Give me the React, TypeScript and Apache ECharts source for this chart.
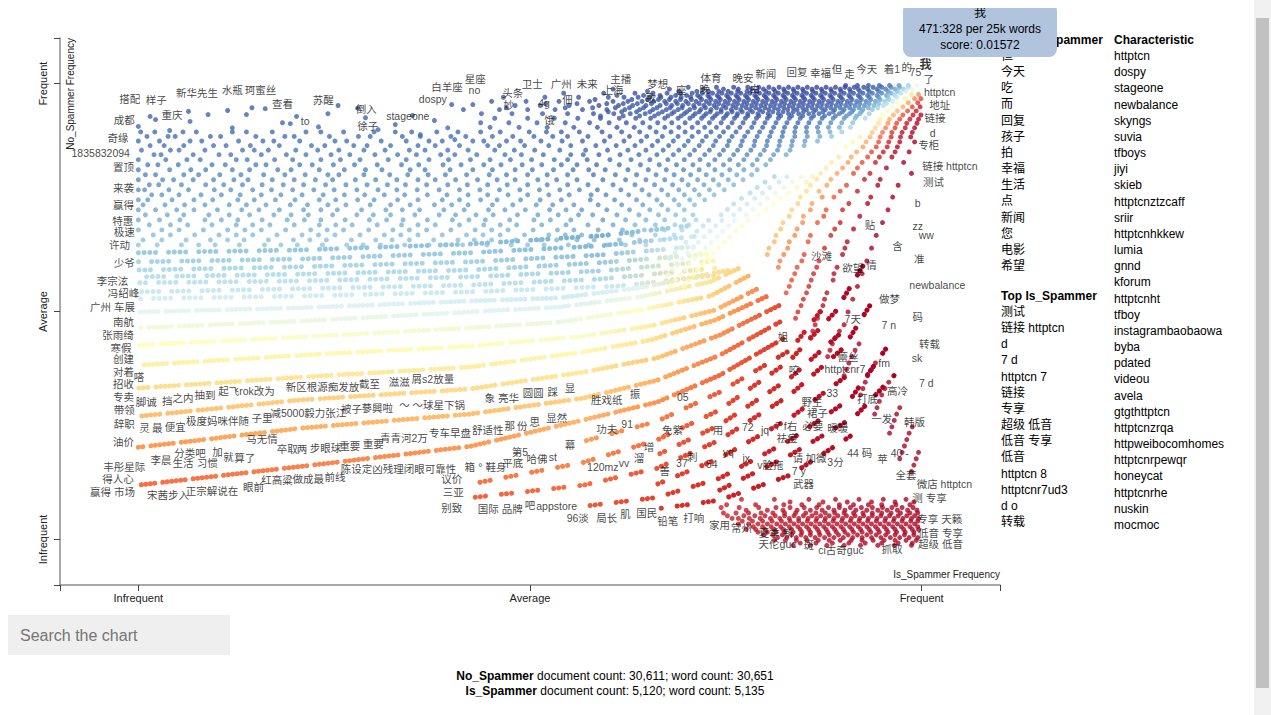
import { useEffect, useRef } from "react";
import * as echarts from "echarts";

// axis ticks (rank scale 0..1000 on both axes)
const tickValues = [0, 500, 1000];
const tickNames = ["Infrequent", "Average", "Frequent"];

const topNoSpammer = ["但", "今天", "吃", "而", "回复", "孩子", "拍", "幸福", "生活", "点", "新闻", "您", "电影", "希望"];
const topIsSpammer = ["测试", "链接 httptcn", "d", "7 d", "httptcn 7", "链接", "专享", "超级 低音", "低音 专享", "低音", "httptcn 8", "httptcnr7ud3", "d o", "转载"];
const characteristic = ["httptcn", "dospy", "stageone", "newbalance", "skyngs", "suvia", "tfboys", "jiyi", "skieb", "httptcnztzcaff", "sriir", "httptcnhkkew", "lumia", "gnnd", "kforum", "httptcnht", "tfboy", "instagrambaobaowa", "byba", "pdated", "videou", "avela", "gtgthttptcn", "httptcnzrqa", "httpweibocomhomes", "httptcnrpewqr", "honeycat", "httptcnrhe", "nuskin", "mocmoc"];
const corpusStats = [
  ["No_Spammer", "30,611", "30,651"],
  ["Is_Spammer", "5,120", "5,135"],
];
const hoverTerm = ["我", "471:328 per 25k words", "score: 0.01572"];

// sparse terms in the upper left: [x, y]
const sparseTop: number[][] = [
  [0, 906], [15, 928], [22, 921], [64, 939], [66, 917], [89, 932], [114, 941], [138, 932], [145, 947], [162, 945],
  [184, 914], [194, 912], [202, 928], [242, 934], [255, 952], [400, 954], [415, 943], [427, 954], [306, 899], [328, 910],
  [360, 888], [395, 903], [404, 877], [290, 925], [230, 905], [120, 903], [40, 897], [280, 946], [350, 930], [378, 919],
];

// term points, grouped in rows: [y, [x, x, ...]]
const blueRows: [number, number[]][] = [
  [996, [903, 918, 932, 946, 959, 971, 983, 994]],
  [992, [702, 738, 760, 778, 792, 805, 818, 830, 842, 854, 866, 878, 890, 902, 914, 926, 938, 949, 961, 972, 983]],
  [988, [606, 678, 721, 747, 766, 783, 798, 811, 824, 836, 848, 860, 872, 884, 896, 908, 919, 931, 943, 954, 966, 977, 988]],
  [983, [650, 690, 713, 728, 741, 753, 765, 777, 789, 801, 813, 825, 837, 849, 861, 873, 885, 897, 909, 921, 933, 945, 957, 969, 980]],
  [979, [543, 594, 634, 657, 675, 692, 707, 720, 733, 745, 757, 769, 781, 793, 805, 817, 829, 841, 853, 865, 877, 889, 901, 913, 925, 937, 949, 961, 973]],
  [974, [611, 645, 666, 686, 700, 714, 727, 739, 751, 763, 775, 787, 799, 811, 823, 835, 847, 859, 871, 883, 895, 907, 919, 931, 943, 955, 966]],
  [970, [466, 519, 562, 600, 620, 638, 653, 667, 680, 693, 705, 717, 729, 741, 753, 765, 777, 789, 801, 813, 825, 837, 849, 861, 873, 885, 897, 909, 921, 933, 945, 957, 968]],
  [965, [583, 630, 650, 664, 678, 692, 706, 719, 731, 743, 755, 767, 779, 791, 803, 815, 827, 839, 851, 863, 875, 887, 899, 911, 923, 935, 947, 958]],
  [961, [451, 495, 537, 576, 606, 625, 643, 658, 672, 686, 699, 712, 725, 737, 749, 761, 773, 785, 797, 809, 821, 833, 845, 857, 869, 881, 893, 905, 917, 929, 941, 953, 963]],
  [956, [520, 560, 598, 619, 637, 655, 674, 688, 702, 716, 729, 741, 753, 765, 777, 789, 801, 813, 825, 837, 849, 861, 873, 885, 897, 909, 921, 933, 945, 955]],
  [952, [481, 513, 550, 588, 613, 631, 648, 666, 681, 695, 709, 722, 735, 747, 759, 771, 783, 795, 807, 819, 831, 843, 855, 867, 879, 891, 903, 915, 927, 939, 951]],
  [947, [470, 545, 580, 609, 627, 645, 662, 679, 694, 710, 724, 738, 750, 763, 776, 788, 800, 812, 824, 836, 848, 860, 872, 884, 896, 908, 920, 932, 944]],
  [943, [461, 497, 532, 567, 598, 621, 640, 657, 674, 689, 704, 718, 731, 744, 757, 769, 781, 793, 805, 817, 829, 841, 853, 865, 877, 889, 901, 913, 925, 937]],
  [938, [600, 617, 636, 653, 669, 684, 700, 716, 730, 744, 758, 771, 784, 797, 810, 823, 836, 849, 862, 874, 887, 899, 911, 923]],
  [934, [438, 477, 516, 548, 581, 607, 628, 647, 664, 681, 697, 711, 725, 739, 752, 765, 778, 791, 804, 817, 830, 843, 856, 869, 882, 895, 908, 921, 933]],
  [929, [590, 619, 640, 659, 676, 693, 708, 722, 736, 750, 764, 778, 792, 806, 820, 834, 848, 862, 876, 890, 904, 917]],
  [924, [455, 497, 531, 561, 590, 614, 635, 654, 672, 689, 704, 719, 733, 747, 761, 775, 789, 803, 817, 831, 845, 859, 873, 887, 901, 915, 928]],
  [914, [437, 473, 509, 545, 576, 601, 623, 644, 663, 681, 698, 714, 729, 744, 758, 772, 786, 800, 814, 828, 842, 856, 870, 884, 898, 912]],
  [904, [449, 486, 522, 556, 586, 611, 633, 653, 672, 690, 707, 723, 738, 753, 768, 783, 797, 811, 825, 839, 853, 867, 881, 895, 909]],
  [894, [3, 21, 57, 74, 120, 138, 171, 214, 233, 262, 301, 328, 349, 381, 408, 437, 462, 499, 521, 540, 563, 592, 617, 640, 661, 680, 698, 715, 731, 747, 763, 778, 793, 808, 823, 838, 853, 868, 883, 898]],
  [884, [11, 38, 47, 92, 105, 150, 187, 199, 244, 281, 296, 337, 360, 399, 418, 452, 478, 505, 529, 548, 574, 602, 627, 649, 669, 689, 707, 725, 742, 758, 774, 790, 806, 822, 838, 854, 870, 885]],
  [874, [0, 27, 66, 81, 128, 159, 173, 206, 251, 266, 310, 342, 371, 388, 427, 441, 470, 488, 514, 541, 567, 595, 620, 642, 663, 683, 702, 720, 737, 754, 771, 787, 803, 819, 835, 851, 867]],
  [864, [15, 33, 58, 96, 112, 143, 180, 221, 238, 275, 292, 322, 357, 379, 410, 446, 461, 493, 524, 552, 584, 610, 634, 656, 677, 697, 716, 734, 752, 769, 786, 802, 818, 834, 850]],
  [854, [4, 41, 52, 85, 133, 148, 166, 201, 229, 256, 288, 315, 346, 366, 395, 421, 455, 480, 506, 538, 571, 599, 625, 648, 670, 690, 710, 729, 747, 765, 782, 799, 816, 832]],
  [844, [20, 29, 70, 103, 118, 157, 189, 214, 246, 270, 302, 331, 355, 386, 404, 432, 468, 489, 517, 552, 568, 588, 615, 639, 662, 683, 704, 723, 742, 760, 777, 794, 811, 827]],
  [833, [0, 35, 62, 79, 125, 139, 174, 197, 233, 258, 283, 319, 342, 371, 396, 424, 449, 475, 502, 531, 548, 573, 602, 629, 653, 676, 697, 717, 736, 755, 773, 790, 807]],
  [822, [12, 25, 51, 94, 111, 150, 163, 206, 222, 249, 276, 305, 336, 358, 389, 412, 441, 463, 490, 515, 540, 560, 585, 614, 641, 665, 687, 708, 728, 747, 766, 784, 801]],
  [811, [0, 40, 67, 86, 120, 142, 178, 195, 231, 263, 290, 311, 347, 366, 398, 427, 452, 481, 503, 530, 555, 575, 596, 625, 651, 674, 696, 716, 736, 755, 773, 790]],
  [800, [9, 22, 58, 77, 104, 131, 160, 187, 213, 242, 256, 288, 321, 344, 370, 392, 419, 448, 470, 497, 522, 548, 581, 609, 636, 661, 684, 705, 725, 745, 764, 783]],
  [789, [0, 31, 45, 70, 96, 122, 140, 171, 199, 226, 248, 277, 303, 330, 357, 379, 405, 433, 458, 481, 510, 534, 560, 593, 622, 648, 672, 694, 714, 734, 753, 772]],
  [778, [14, 26, 55, 86, 109, 133, 158, 185, 211, 239, 265, 292, 318, 341, 368, 395, 420, 446, 471, 497, 522, 548, 574, 606, 634, 659, 682, 702, 722, 741, 760]],
  [767, [0, 8, 39, 64, 97, 118, 146, 170, 197, 224, 250, 279, 306, 330, 356, 384, 410, 436, 461, 487, 512, 538, 563, 586, 616, 643, 668, 690, 710, 729, 748]],
  [756, [17, 30, 52, 80, 106, 130, 157, 182, 209, 236, 263, 289, 314, 340, 369, 394, 421, 446, 472, 497, 524, 550, 578, 597, 626, 652, 676, 697, 716, 735]],
  [745, [0, 12, 43, 71, 95, 127, 148, 175, 200, 231, 252, 280, 301, 331, 357, 388, 410, 437, 458, 488, 513, 540, 577, 608, 636, 662, 684, 704, 723]],
  [734, [6, 34, 59, 85, 116, 138, 163, 194, 216, 242, 265, 296, 322, 347, 378, 400, 421, 452, 478, 508, 529, 556, 587, 617, 644, 668, 690, 710]],
  [723, [0, 22, 49, 71, 101, 132, 154, 180, 211, 233, 254, 285, 316, 337, 359, 390, 416, 447, 468, 494, 525, 546, 566, 598, 627, 653, 676, 697]],
  [712, [9, 37, 58, 90, 116, 142, 173, 195, 217, 248, 279, 300, 322, 353, 384, 405, 431, 453, 484, 510, 536, 562, 580, 611, 639, 664, 686, 708]],
  [701, [0, 27, 53, 85, 106, 127, 158, 190, 212, 233, 264, 295, 317, 338, 369, 401, 422, 443, 474, 505, 526, 552, 593, 622, 648, 672, 697, 712]],
  [690, [14, 41, 63, 94, 125, 146, 168, 199, 231, 252, 273, 305, 336, 357, 379, 410, 441, 462, 483, 515, 546, 574, 606, 634, 660, 685, 703]],
  [679, [0, 30, 52, 83, 114, 136, 157, 188, 220, 241, 262, 294, 325, 346, 368, 399, 430, 451, 472, 504, 535, 556, 587, 618, 646, 672, 694]],
  [668, [19, 41, 72, 103, 125, 146, 177, 209, 230, 251, 283, 314, 335, 357, 388, 419, 440, 462, 493, 524, 545, 566, 600, 630, 660, 684]],
  [657, [6, 30, 61, 92, 114, 135, 166, 198, 219, 240, 272, 303, 324, 346, 377, 408, 429, 451, 482, 513, 534, 560, 582, 614, 640, 666]],
  [646, [0, 24, 55, 77, 98, 129, 161, 182, 203, 235, 266, 287, 309, 340, 371, 392, 414, 445, 476, 497, 518, 549, 575, 598, 622, 648]],
];

// terms along the diagonal, where both classes are about as frequent
const diagonalRows: [number, number[]][] = [
  [796, [812, 828, 846, 861]], [784, [800, 818, 835, 853]], [772, [790, 806, 824, 841]], [760, [781, 797, 813, 830]],
  [748, [770, 787, 803, 820]], [736, [760, 777, 794, 811]], [724, [752, 768, 785, 801]], [712, [744, 760, 776, 792]],
  [700, [728, 745, 761, 778]], [688, [721, 737, 754, 770]], [676, [713, 730, 746, 763]], [664, [706, 722, 739, 755]],
  [652, [699, 715, 731, 748]], [640, [692, 708, 724, 741]], [628, [685, 701, 717, 734]], [616, [678, 694, 710, 727]],
  [604, [688, 704, 720]], [592, [682, 698, 714]], [580, [676, 692, 708]], [568, [686, 702]], [556, [680, 696]],
];

const redRows: [number, number[]][] = [
  [976, [987, 996]], [967, [979, 991, 999]], [958, [970, 983, 995]], [949, [962, 976, 988, 998]],
  [940, [956, 969, 982, 993]], [931, [950, 964, 976, 989, 999]], [922, [947, 959, 972, 985, 996]],
  [913, [945, 957, 968, 981, 994]], [903, [941, 954, 966, 979, 991]], [893, [937, 950, 962, 975, 988]],
  [883, [921, 934, 947, 961, 973, 986]], [872, [912, 929, 945, 958, 972, 991]], [861, [903, 925, 942, 956, 969]],
  [850, [917, 936, 951, 966, 984]], [839, [894, 910, 931, 946, 962]], [827, [885, 906, 924, 941, 977]],
  [815, [878, 899, 918, 955]], [803, [871, 892, 913, 934, 987]], [790, [866, 884, 927, 947]],
  [777, [858, 879, 904, 944, 970]], [764, [853, 869, 896, 918]], [751, [845, 873, 888, 935, 963]],
  [737, [842, 860, 907, 931]], [723, [834, 858, 878, 899, 957]], [709, [831, 849, 875, 921]],
  [695, [823, 848, 867, 896, 950]], [681, [820, 841, 889, 913]], [667, [814, 838, 858, 884, 942]],
  [653, [812, 831, 855, 905]], [639, [805, 829, 876, 902, 936]], [625, [803, 824, 850, 899]],
  [611, [819, 847, 869, 930]], [597, [817, 841, 866, 892]], [583, [838, 862, 888, 924]],
  [569, [834, 859, 887]], [555, [831, 856, 918]], [541, [827, 853, 879]], [527, [849, 876, 912]],
  [513, [846, 874]], [499, [842, 870, 906]], [485, [839, 867]], [471, [864, 901]], [457, [861, 895]],
  [443, [858, 890]], [429, [886, 920]], [415, [883, 915]], [401, [880, 911]], [387, [907, 941]],
  [373, [904, 936]], [359, [901, 931]], [345, [928, 958]], [331, [925, 953]], [317, [922, 949]],
  [303, [946]], [289, [943, 972]], [275, [940, 968]], [261, [965]], [247, [962, 988]], [233, [959, 984]],
  [219, [981]], [205, [978]], [191, [975, 996]], [177, [972, 993]], [163, [990]], [149, [987]],
];

const floorRows: [number, number[]][] = [
  [88, [770, 812, 856, 890, 920, 951, 980]],
  [82, [832, 874, 905, 936, 966, 990]],
  [76, [751, 788, 824, 847, 869, 895, 913, 932, 949, 967, 985]],
  [70, [744, 767, 792, 814, 832, 850, 866, 881, 895, 909, 923, 937, 950, 962, 975, 989]],
  [64, [776, 803, 823, 841, 858, 873, 888, 902, 916, 930, 944, 956, 969, 982, 994]],
  [58, [747, 763, 779, 795, 810, 825, 839, 852, 865, 877, 889, 901, 913, 925, 937, 949, 961, 973, 985, 995]],
  [52, [752, 773, 787, 800, 813, 825, 837, 849, 860, 871, 882, 893, 904, 915, 926, 937, 948, 959, 970, 981, 991]],
  [46, [758, 766, 780, 794, 807, 819, 831, 843, 855, 866, 877, 888, 899, 910, 921, 932, 943, 954, 965, 976, 987, 996]],
  [40, [771, 784, 797, 809, 821, 832, 843, 854, 865, 876, 887, 898, 909, 920, 931, 942, 953, 964, 975, 986, 995]],
  [34, [766, 779, 791, 803, 815, 826, 837, 848, 859, 870, 881, 892, 903, 914, 925, 936, 947, 958, 969, 980, 991]],
  [28, [785, 797, 808, 820, 831, 842, 853, 864, 875, 886, 897, 908, 919, 930, 941, 952, 963, 974, 985, 995]],
  [22, [776, 788, 800, 812, 823, 834, 845, 856, 867, 878, 889, 900, 911, 922, 933, 944, 955, 966, 977, 988, 996]],
  [16, [791, 803, 814, 825, 836, 847, 858, 869, 880, 891, 902, 913, 924, 935, 946, 957, 968, 979, 990]],
  [10, [798, 810, 822, 834, 846, 858, 870, 882, 894, 906, 918, 930, 942, 954, 966, 978, 990]],
  [4, [816, 828, 840, 852, 864, 876, 888, 900, 912, 924, 936, 948, 960, 972, 984, 995]],
  [-2, [812, 826, 840, 854, 868, 882, 896, 910, 924, 938, 952, 966, 980, 993]],
  [-8, [845, 865, 886, 907, 928, 949, 970, 988]],
  [-13, [836, 858, 879, 901, 922, 944, 965, 987]],
];

// tied-frequency bands: vertices [x, y]
const bands: number[][][] = [
  [[0, 629], [207, 635], [423, 648], [589, 666], [704, 688]],
  [[0, 609], [207, 615], [423, 629], [589, 644], [717, 666]],
  [[0, 591], [207, 598], [423, 609], [589, 624], [723, 644]],
  [[0, 576], [207, 582], [423, 591], [589, 607], [730, 626]],
  [[0, 563], [207, 567], [423, 576], [589, 589], [736, 611]],
  [[0, 543], [207, 550], [423, 558], [589, 571], [742, 596]],
  [[0, 528], [207, 534], [423, 543], [615, 556], [749, 582]],
  [[0, 499], [207, 508], [423, 523], [538, 530], [640, 552], [755, 591]],
  [[0, 464], [207, 479], [423, 499], [538, 510], [640, 532], [730, 565], [768, 596]],
  [[0, 426], [207, 444], [423, 464], [538, 477], [640, 503], [730, 534], [781, 580]],
  [[0, 382], [207, 404], [423, 424], [568, 446], [653, 468], [736, 503], [793, 552]],
  [[0, 332], [207, 356], [423, 378], [568, 411], [653, 437], [736, 481], [806, 536]],
  [[0, 270], [207, 306], [423, 330], [568, 367], [662, 398], [742, 448], [819, 514]],
  [[0, 202], [207, 244], [423, 275], [568, 310], [662, 349], [742, 404], [819, 477]],
  [[0, 119], [207, 160], [423, 204], [568, 262], [662, 301], [742, 360], [825, 442]],
  [[568, 215], [662, 259], [742, 323], [832, 415], [880, 520]],
  [[417, 119], [568, 169], [662, 218], [742, 284], [832, 393], [890, 500], [925, 600]],
  [[662, 185], [742, 251], [832, 354], [895, 450]],
  [[417, 90], [568, 119], [662, 156], [742, 218], [832, 317], [900, 420], [940, 530]],
  [[662, 121], [742, 178], [832, 266], [905, 360]],
  [[570, 73], [662, 92], [742, 134], [832, 218], [910, 310], [955, 420]],
  [[666, 68], [742, 86], [832, 141], [912, 230]],
  [[742, 108], [832, 185], [915, 270], [965, 360]],
];

// labelled terms: [term, x, y]
const labels: [string, number, number][] = [
  ["搭配", -11, 967], ["样子", 23, 963], ["新华先生", 75, 980], ["水瓶", 120, 987], ["珂蜜丝", 156, 985],
  ["重庆", 43, 932], ["查看", 184, 956], ["苏醒", 236, 965], ["to", 213, 919], ["倒入", 291, 945],
  ["徐子", 293, 908], ["stageone", 344, 928], ["dospy", 376, 967], ["白羊座", 394, 993], ["星座", 430, 1009],
  ["no", 429, 985], ["成都", -18, 921], ["奇缘", -26, 881], ["1835832094", -48, 848], ["置顶", -19, 818],
  ["来袭", -19, 771], ["赢得", -19, 734], ["特惠", -20, 699], ["极速", -18, 675], ["许动", -24, 646],
  ["少爷", -18, 607], ["李宗泫", -33, 567], ["冯绍峰", -19, 541], ["广州 车展", -33, 510], ["南航", -19, 477],
  ["张雨绮", -26, 448], ["寒假", -22, 420], ["创建", -19, 396], ["对着", -19, 367], ["嗒", 1, 356],
  ["招收", -19, 341], ["专卖", -19, 312], ["脚诚", 10, 301], ["挡", 37, 303], ["之内", 57, 310],
  ["抽到", 85, 317], ["起飞rok改为", 138, 325], ["新区根源痴发放", 235, 334], ["截至", 295, 341], ["滋滋", 333, 345],
  ["屑s2放量", 376, 352], ["带领", -18, 284], ["辞职", -18, 253], ["灵", 8, 244], ["最", 24, 244],
  ["便宜", 47, 246], ["极度妈咪伴随", 101, 259], ["子里", 158, 266], ["减5000毅力张江", 217, 277], ["被子", 272, 286],
  ["蔘興啦", 305, 288], ["～ ～球星下锅", 375, 295], ["油价", -19, 213], ["马无情", 158, 220], ["卒取", 190, 198],
  ["两", 209, 198], ["步眼球", 239, 200], ["重要", 270, 204], ["重要", 300, 209], ["青青河2万", 339, 222],
  ["专车早盘", 398, 233], ["丰彤星际", -18, 158], ["李晨", 29, 174], ["分类吧", 66, 189], ["加", 101, 191],
  ["生活", 57, 167], ["习惯", 88, 167], ["就", 115, 180], ["算了", 136, 178], ["得人心", -26, 132],
  ["赢得 市场", -33, 103], ["宋茜步入", 38, 97], ["正宗解说在", 94, 106], ["眼前", 147, 114], ["红高粱", 177, 130],
  ["做成最", 217, 132], ["前线", 251, 136], ["陈设定凶残理闭眼可靠性", 332, 154], ["箱", 423, 158], ["议价", 400, 132],
  ["三亚", 402, 103], ["别致", 400, 68], ["象 亮华", 464, 310], ["圆圆", 504, 321], ["踩", 529, 323],
  ["显", 551, 332], ["舒适性", 446, 240], ["那", 474, 248], ["份", 490, 248], ["思", 506, 257],
  ["显然", 534, 266], ["幕", 551, 207], ["第5", 487, 191], ["° 鞋身", 452, 158], ["平底", 478, 167],
  ["哈佛", 509, 176], ["st", 529, 180], ["国际 品牌", 462, 66], ["吧", 500, 75], ["appstore", 534, 73],
  ["96淡", 561, 48], ["局长", 598, 48], ["肌", 622, 55], ["国民", 649, 59], ["铅笔", 676, 40],
  ["打响", 709, 46], ["家用", 742, 31], ["常州", 770, 26], ["胜戏纸", 598, 306], ["振", 634, 319],
  ["05", 695, 312], ["功夫", 598, 242], ["91", 624, 253], ["免紫", 682, 240], ["用", 740, 240],
  ["72", 778, 246], ["增", 652, 202], ["120mz", 593, 158], ["vv", 620, 167], ["溜", 639, 178],
  ["37", 694, 167], ["刺", 707, 180], ["善", 672, 149], ["54", 732, 165], ["yq", 753, 191],
  ["jx", 776, 178], ["ww", 1006, 668], ["含", 969, 644], ["沙滩", 872, 622], ["准", 997, 615],
  ["欲望", 912, 596], ["情", 936, 602], ["newbalance", 1020, 558], ["做梦", 959, 528], ["码", 995, 488],
  ["7天", 912, 484], ["7 n", 958, 470], ["姐", 823, 444], ["转载", 1010, 429], ["蕾丝", 906, 400],
  ["fm", 952, 387], ["sk", 994, 398], ["httptcnr7", 902, 374], ["咬", 837, 371], ["7 d", 1006, 343],
  ["高冷", 969, 325], ["33", 886, 321], ["野生", 860, 301], ["打底", 931, 308], ["裙子", 867, 277],
  ["一发", 949, 264], ["韩版", 991, 257], ["必要", 861, 248], ["暖暖", 893, 244], ["7 f右", 827, 248],
  ["jq", 800, 240], ["祛痘", 828, 222], ["请", 842, 178], ["加微", 865, 178], ["3分", 890, 169],
  ["44 码", 921, 189], ["苹", 950, 176], ["40 -", 972, 189], ["v脸拖", 807, 163], ["7 y", 843, 149],
  ["武器", 849, 121], ["全套", 980, 141], ["微店 httptcn", 1029, 121], ["测 专享", 1010, 90], ["专享 天籁", 1023, 44],
  ["低音 专享", 1024, 15], ["超级 低音", 1024, -11], ["夏季 新", 814, 15], ["天伦guc", 816, -9], ["斑", 856, -13],
  ["ci古奇guc", 897, -24], ["抓取", 962, -22], ["头条", 478, 980], ["妙", 473, 954], ["卫士", 503, 1000],
  ["4g", 518, 958], ["饿", 525, 921], ["广州", 540, 1000], ["未来", 573, 1000], ["佃", 548, 963],
  ["上海", 606, 985], ["主播", 616, 1009], ["梦想", 663, 1000], ["歌", 654, 969], ["座", 693, 985],
  ["体育", 731, 1013], ["晚", 723, 989], ["晚安", 772, 1013], ["新闻", 801, 1022], ["由", 787, 989],
  ["回复", 841, 1026], ["幸福", 871, 1024], ["但", 892, 1031], ["走", 908, 1022], ["今天", 930, 1033],
  ["着1", 962, 1033], ["的", 981, 1037], ["75", 992, 1026], ["我", 1005, 1040], ["了", 1009, 1009],
  ["httptcn", 1023, 982], ["地址", 1023, 954], ["链接", 1017, 925], ["d", 1014, 892], ["专柜", 1009, 866],
  ["链接 httptcn", 1036, 820], ["测试", 1015, 785], ["b", 995, 739], ["贴", 934, 690], ["zz", 995, 688],
];

const FONT = '"Liberation Sans", Arial, "Noto Sans CJK SC", sans-serif';
const RDYLBU = ["#a50026", "#d73027", "#f46d43", "#fdae61", "#fee090", "#ffffbf", "#e0f3f8", "#abd9e9", "#74add1", "#4575b4", "#313695"];

function hexRgb(h: string) {
  return [1, 3, 5].map((i) => parseInt(h.slice(i, i + 2), 16));
}

// diverging colour of a term from its position (blue: No_Spammer, red: Is_Spammer)
function tone(x: number, y: number) {
  const xs = Math.max(0, x / 1000);
  const ys = Math.max(0, y / 1000);
  const n = Math.max(0.43, 1.4 * xs - 0.4);
  const d = ys - n;
  const k = d > 0 ? 2.5 + 25 * Math.pow(xs, 8) : 2.2 + 30 * Math.pow(xs, 8) * ys * ys;
  const t = 0.5 + 0.5 * Math.tanh(k * d);
  const p = Math.min(0.9999, Math.max(0, t)) * (RDYLBU.length - 1);
  const i = Math.floor(p);
  const f = p - i;
  const a = hexRgb(RDYLBU[i]);
  const b = hexRgb(RDYLBU[i + 1]);
  const c = a.map((v, j) => Math.round(v + (b[j] - v) * f));
  return `rgb(${c[0]},${c[1]},${c[2]})`;
}

function rowsToPoints(rows: [number, number[]][]) {
  return rows.flatMap(([y, xs]) => xs.map((x) => [x, y]));
}

export default function App() {
  const chartRef = useRef<HTMLDivElement>(null);

  useEffect(() => {
    if (!chartRef.current) return;
    const chart = echarts.init(chartRef.current, null, { renderer: "svg" });

    const points = [
      ...sparseTop,
      ...rowsToPoints(blueRows),
      ...rowsToPoints(diagonalRows),
      ...rowsToPoints(redRows),
      ...rowsToPoints(floorRows),
    ];

    const bandSeries = bands.map((b, i) => {
      const x0 = b[0][0];
      const x1 = b[b.length - 1][0];
      const stops = b.map(([x, y]) => ({ offset: (x - x0) / (x1 - x0), color: tone(x, y) }));
      const dash =
        i < 7
          ? [0.1, 5.6, 0.1, 5.6, 0.1, 5.6, 0.1, 13]
          : i < 15
          ? [0.1, 4.4, 0.1, 4.4, 0.1, 4.4, 0.1, 4.4, 0.1, 4.4, 0.1, 8]
          : [0.1, 5, 0.1, 5, 0.1, 16];
      return {
        type: "line",
        data: b,
        symbol: "none",
        silent: true,
        z: 2,
        lineStyle: {
          width: 5,
          cap: "round",
          type: dash,
          dashOffset: (i * 17) % 29,
          color: new echarts.graphic.LinearGradient(0, 0, 1, 0, stops),
        },
      };
    });

    const listText = (items: string[], x: number, y0: number, step: number) =>
      items.map((t, i) => ({
        type: "text",
        x,
        y: y0 + i * step,
        style: { text: t, fontSize: 12, fontFamily: FONT, fill: "#000", verticalAlign: "middle" },
      }));

    const axisCommon = {
      type: "value",
      min: -100,
      max: 1100,
      splitLine: { show: false },
      axisLine: { onZero: false, lineStyle: { color: "#8c8c8c", width: 1.5 } },
      axisTick: { customValues: [-100, ...tickValues, 1100], length: 6, lineStyle: { color: "#444" } },
    };

    chart.setOption({
      animation: false,
      grid: { left: 60, top: 38, width: 940, height: 547 },
      xAxis: {
        ...axisCommon,
        axisLabel: {
          customValues: tickValues,
          margin: 7,
          fontSize: 11,
          fontFamily: FONT,
          color: "#222",
          formatter: (v: number) => tickNames[tickValues.indexOf(v)] ?? "",
        },
      },
      yAxis: {
        ...axisCommon,
        axisLabel: {
          customValues: tickValues,
          rotate: 90,
          margin: 12,
          fontSize: 11,
          fontFamily: FONT,
          color: "#222",
          formatter: (v: number) => tickNames[tickValues.indexOf(v)] ?? "",
        },
      },
      series: [
        ...bandSeries,
        {
          type: "scatter",
          data: points,
          symbolSize: 5,
          silent: true,
          z: 3,
          itemStyle: { color: (p: any) => tone(p.value[0], p.value[1]) },
        },
        {
          type: "scatter",
          data: labels.map(([name, x, y]) => ({
            name,
            value: [x, y],
            label: name === hoverTerm[0] ? { fontWeight: "bold", fontSize: 12, color: "#000" } : undefined,
          })),
          symbolSize: 1,
          silent: true,
          z: 10,
          itemStyle: { color: "rgba(0,0,0,0)" },
          label: {
            show: true,
            position: "inside",
            formatter: "{b}",
            fontSize: 10.5,
            fontFamily: FONT,
            color: "#111",
          },
        },
      ],
      graphic: [
        {
          type: "text",
          x: 70,
          y: 38,
          rotation: Math.PI / 2,
          style: { text: "No_Spammer Frequency", fontSize: 10, fontFamily: FONT, fill: "#222", align: "right", verticalAlign: "middle" },
        },
        {
          type: "text",
          x: 1000,
          y: 574,
          style: { text: "Is_Spammer Frequency", fontSize: 10, fontFamily: FONT, fill: "#222", align: "right", verticalAlign: "middle" },
        },
        {
          type: "text",
          x: 1001,
          y: 40,
          style: { text: "Top No_Spammer", fontSize: 12, fontWeight: "bold", fontFamily: FONT, fill: "#000", verticalAlign: "middle" },
        },
        ...listText(topNoSpammer, 1001, 56, 16.15),
        {
          type: "text",
          x: 1001,
          y: 296,
          style: { text: "Top Is_Spammer", fontSize: 12, fontWeight: "bold", fontFamily: FONT, fill: "#000", verticalAlign: "middle" },
        },
        ...listText(topIsSpammer, 1001, 312, 16.15),
        {
          type: "text",
          x: 1114,
          y: 40,
          style: { text: "Characteristic", fontSize: 12, fontWeight: "bold", fontFamily: FONT, fill: "#000", verticalAlign: "middle" },
        },
        ...listText(characteristic, 1114, 56, 16.17),
        {
          type: "rect",
          z: 50,
          shape: { x: 903, y: 3, width: 154, height: 54, r: 8 },
          style: { fill: "#b0c4de" },
        },
        ...hoverTerm.map((t, i) => ({
          type: "text",
          z: 51,
          x: 980,
          y: 13 + i * 16,
          style: { text: t, fontSize: 12, fontFamily: FONT, fill: "#000", align: "center", verticalAlign: "middle" },
        })),
        {
          type: "rect",
          shape: { x: 8, y: 615, width: 222, height: 40 },
          style: { fill: "#efefef" },
        },
        {
          type: "text",
          x: 20,
          y: 635,
          style: { text: "Search the chart", fontSize: 16, fontFamily: FONT, fill: "#757575", verticalAlign: "middle" },
        },
        ...corpusStats.map(([name, docs, words], i) => ({
          type: "text",
          x: 615,
          y: 676 + i * 15,
          style: {
            text: `{b|${name}} document count: ${docs}; word count: ${words}`,
            fontSize: 12,
            fontFamily: FONT,
            fill: "#000",
            align: "center",
            verticalAlign: "middle",
            rich: { b: { fontWeight: "bold", fontSize: 12, fontFamily: FONT, fill: "#000" } },
          },
        })),
      ],
    });

    return () => chart.dispose();
  }, []);

  return (
    <div style={{ position: "relative", height: 710 }}>
      <div ref={chartRef} style={{ position: "absolute", left: -8, top: -8, width: 1250, height: 718 }} />
      <div style={{ position: "fixed", right: 0, top: 0, width: 17, height: "100vh", background: "#f1f1f1" }}>
        <div style={{ position: "absolute", left: 2, right: 2, top: 18, bottom: 27, background: "#c1c1c1" }} />
      </div>
    </div>
  );
}
